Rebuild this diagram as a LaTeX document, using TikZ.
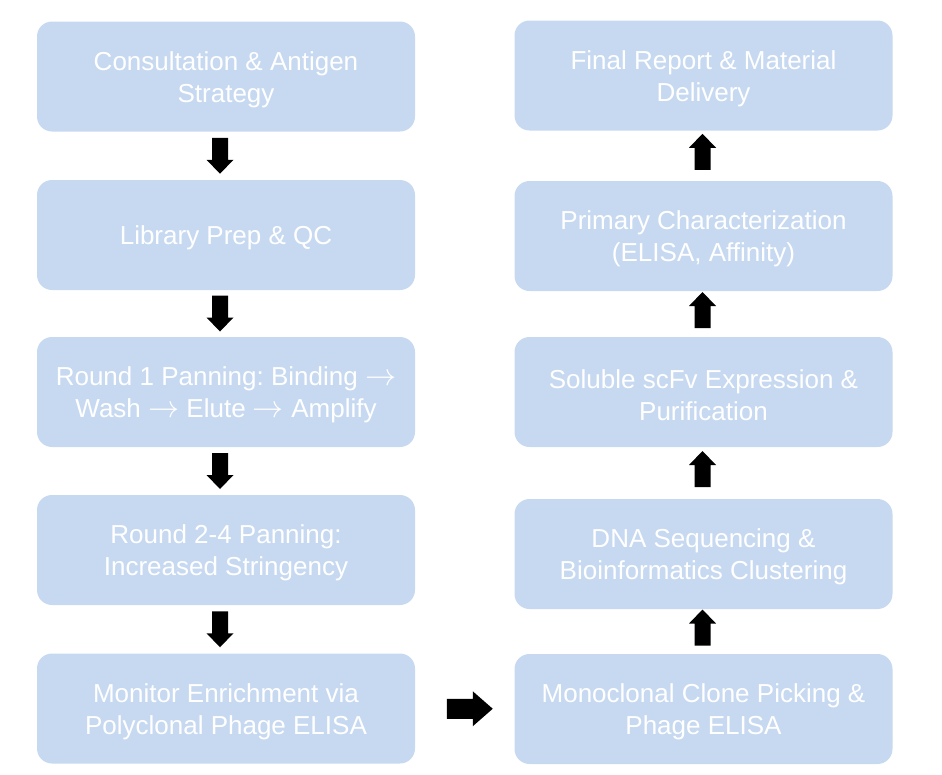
\documentclass[tikz,border=0pt]{standalone}
\usepackage{fontspec}
\usepackage{graphicx}
\setmainfont{Liberation Sans}
\usetikzlibrary{calc}
\frenchspacing
\definecolor{boxblue}{HTML}{C7D9F0}
\tikzset{
  stepbox/.style={fill=boxblue, draw=none, rounded corners=15pt, minimum width=378pt, minimum height=110pt, inner sep=0pt},
  steptext/.style={text=white, align=center, font=\fontsize{26pt}{32pt}\selectfont\frenchspacing, inner sep=0pt},
}
\newcommand{\rarr}{\scalebox{1.25}{$\rightarrow$}}
\newcommand{\vblockarr}[2]{\fill[black,shift={(#1)},rotate=#2] (-18pt,-8pt) -- (4pt,-8pt) -- (4pt,-13.5pt) -- (18pt,0pt) -- (4pt,13.5pt) -- (4pt,8pt) -- (-18pt,8pt) -- cycle;}
\newcommand{\hblockarr}[1]{\fill[black,shift={(#1)}] (-23pt,-10pt) -- (3pt,-10pt) -- (3pt,-17.5pt) -- (23pt,0pt) -- (3pt,17.5pt) -- (3pt,10pt) -- (-23pt,10pt) -- cycle;}
\begin{document}
\begin{tikzpicture}[x=1pt,y=1pt]
\useasboundingbox (0,0) rectangle (942,-774);
% left column
\node[stepbox] (l1) at (226,-76.5) {};
\node[stepbox] (l2) at (226,-235) {};
\node[stepbox] (l3) at (226,-392) {};
\node[stepbox] (l4) at (226,-550) {};
\node[stepbox] (l5) at (226,-708.5) {};
\node[steptext] (t-l1) at ([yshift=-3]l1.center) {Consultation \& Antigen\\Strategy};
\node[steptext] (t-l2) at ([yshift=-3]l2.center) {Library Prep \& QC};
\node[steptext] (t-l3) at ([yshift=-3]l3.center) {Round 1 Panning: Binding \rarr\\Wash \rarr{} Elute \rarr{} Amplify};
\node[steptext] (t-l4) at ([yshift=-3]l4.center) {Round 2-4 Panning:\\Increased Stringency};
\node[steptext] (t-l5) at ([yshift=-3]l5.center) {Monitor Enrichment via\\Polyclonal Phage ELISA};
% right column
\node[stepbox] (r1) at (703.5,-75.5) {};
\node[stepbox] (r2) at (703.5,-236) {};
\node[stepbox] (r3) at (703.5,-392) {};
\node[stepbox] (r4) at (703.5,-554) {};
\node[stepbox] (r5) at (703.5,-709) {};
\node[steptext] (t-r1) at ([yshift=-3]r1.center) {Final Report \& Material\\Delivery};
\node[steptext] (t-r2) at ([yshift=-3]r2.center) {Primary Characterization\\(ELISA, Affinity)};
\node[steptext] (t-r3) at ([yshift=-3]r3.center) {Soluble scFv Expression \&\\Purification};
\node[steptext] (t-r4) at ([yshift=-3]r4.center) {DNA Sequencing \&\\Bioinformatics Clustering};
\node[steptext] (t-r5) at ([yshift=-3]r5.center) {Monoclonal Clone Picking \&\\Phage ELISA};
% arrows
\coordinate (a1) at ($(l1.south)!0.5!(l2.north)+(-6,0)$);
\coordinate (a2) at ($(l2.south)!0.5!(l3.north)+(-6,0)$);
\coordinate (a3) at ($(l3.south)!0.5!(l4.north)+(-6,0)$);
\coordinate (a4) at ($(l4.south)!0.5!(l5.north)+(-6,0)$);
\vblockarr{a1}{-90}
\vblockarr{a2}{-90}
\vblockarr{a3}{-90}
\vblockarr{a4}{-90}
\coordinate (b1) at ($(r5.north)!0.5!(r4.south)+(-1,4)$);
\coordinate (b2) at ($(r4.north)!0.5!(r3.south)+(-1,4)$);
\coordinate (b3) at ($(r3.north)!0.5!(r2.south)+(-1,4)$);
\coordinate (b4) at ($(r2.north)!0.5!(r1.south)+(-1,4)$);
\vblockarr{b1}{90}
\vblockarr{b2}{90}
\vblockarr{b3}{90}
\vblockarr{b4}{90}
\coordinate (c1) at ($(l5.east)!0.5!(r5.west)+(5,0)$);
\hblockarr{c1}
\end{tikzpicture}
\end{document}
